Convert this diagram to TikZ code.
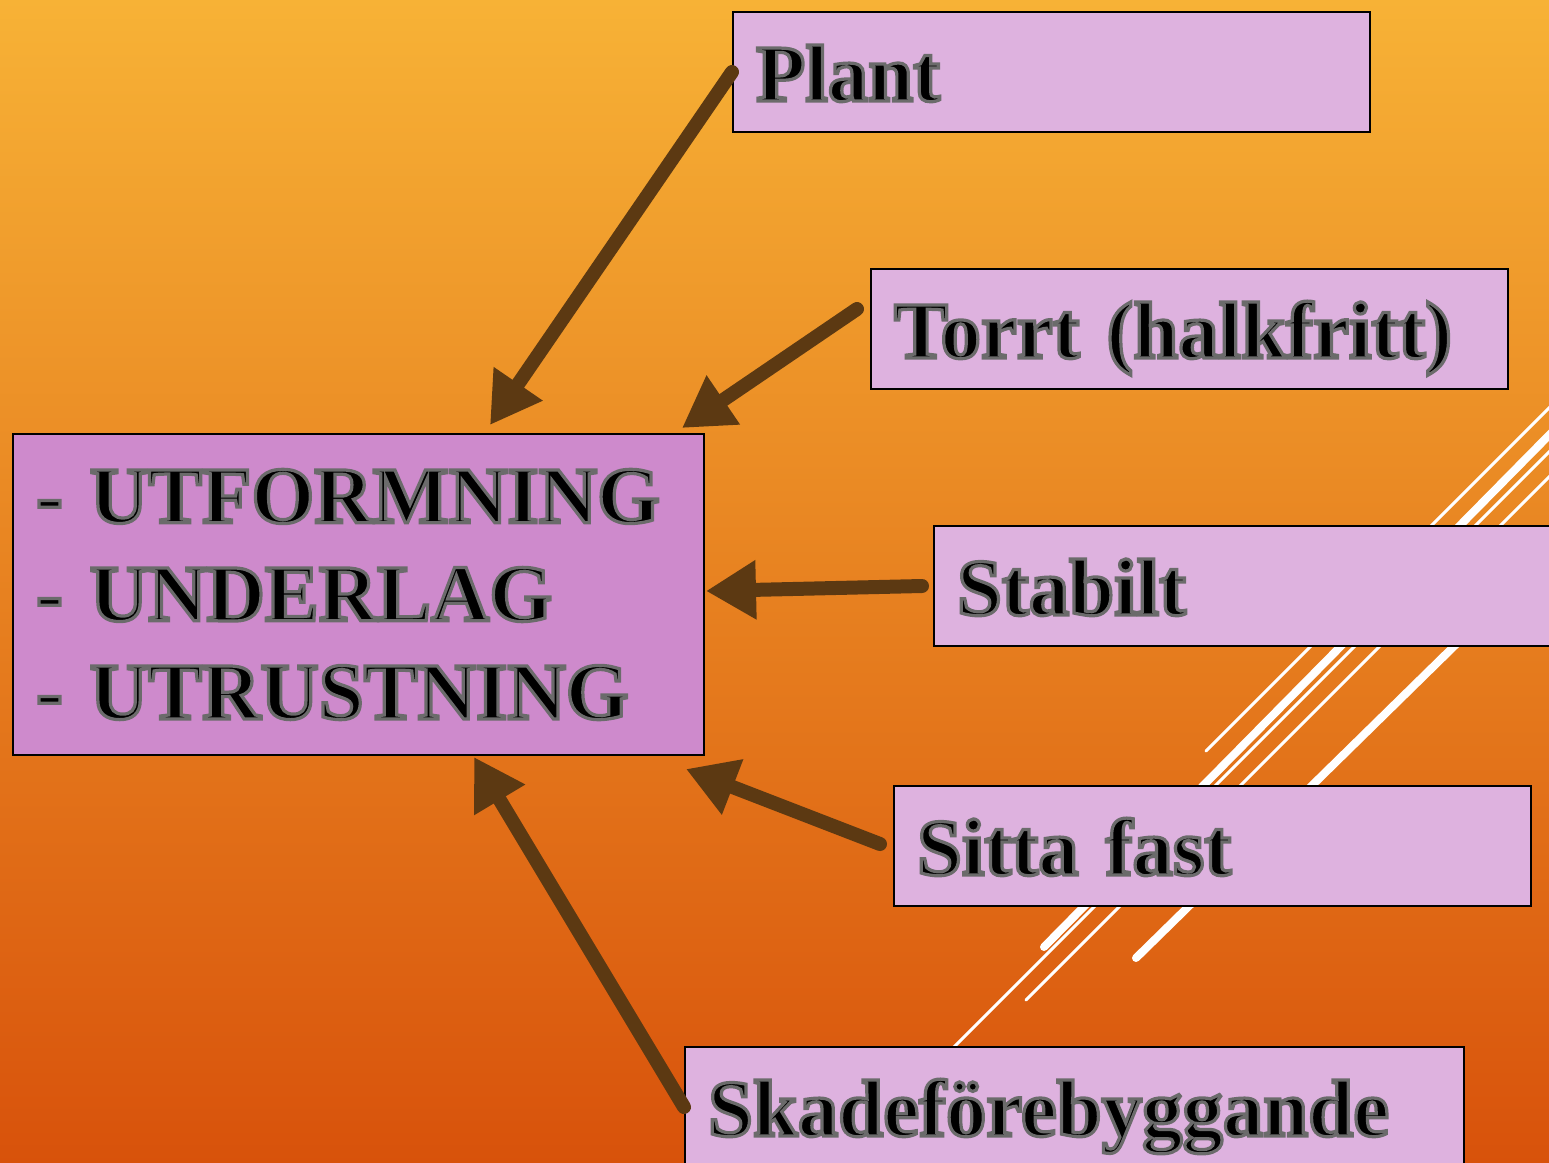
\documentclass[tikz,border=0pt]{standalone}
\usepackage{fontspec}
\setmainfont{Liberation Serif}
\newfontfamily\boxfont{Liberation Serif}[BoldFeatures={FakeBold=4}]
\usetikzlibrary{arrows.meta}
\newlength\pxu \setlength\pxu{0.02cm}
\definecolor{bgtop}{HTML}{F7B236}
\definecolor{bgmid}{HTML}{EE9327}
\definecolor{bgbot}{HTML}{D8520B}
\definecolor{lbox}{HTML}{DEB2DF}
\definecolor{mbox}{HTML}{CE8ACC}
\definecolor{arrowbrown}{HTML}{5C3912}
\newcommand\grayoutline{\special{pdf:literal direct 0.42 0.42 0.42 RG}}
\tikzset{
  boxtext/.style={font=\boxfont\bfseries\fontsize{46}{55.8}\selectfont\grayoutline},
  lbl/.style={boxtext, draw=black, line width=2\pxu, fill=lbox, anchor=north west,
    inner xsep=23\pxu, inner ysep=0pt, minimum height=120\pxu,
    text height=58\pxu, text depth=0pt, align=left},
  mainbox/.style={boxtext, draw=black, line width=2\pxu, fill=mbox, anchor=north west,
    inner xsep=23\pxu, inner ysep=0pt, minimum height=321\pxu, align=left},
  arr/.style={draw=arrowbrown, line width=0.28cm, line cap=round,
    -{Triangle[length=1cm, width=1.12cm]}},
  wthin/.style={draw=white, line width=0.06cm, line cap=round},
  wthick/.style={draw=white, line width=0.16cm, line cap=round},
}
\begin{document}
\begin{tikzpicture}[x=0.02cm, y=-0.02cm]
\useasboundingbox (0,0) rectangle (1549,1163);
\clip (0,0) rectangle (1549,1163);
% background
\shade[top color=bgtop, middle color=bgmid, bottom color=bgbot] (0,0) rectangle (1549,1163);
% decorative white lines
\draw[wthin]  (1206,751) -- (1640,317);
\draw[wthick] (1044,947) -- (1640,343);
\draw[wthin]  (850,1151) -- (1640,361);
\draw[wthin]  (1026,1000) -- (1640,386);
\draw[wthick] (1136,958) -- (1640,464);
% boxes
\node[mainbox, text width=645\pxu] (main) at (12,433)
  {- UTFORMNING\\- UNDERLAG\\- UTRUSTNING};
\node[lbl, text width=591\pxu] (plant) at (732,11) {Plant};
\node[lbl, text width=591\pxu] (torrt) at (870,268) {Torrt (halkfritt)};
\node[lbl, text width=654\pxu] (stabilt) at (933,525) {Stabilt};
\node[lbl, text width=591\pxu] (sitta) at (893,785) {Sitta fast};
\node[lbl, text width=733\pxu] (skade) at (684,1046) {Skadeförebyggande};
% arrow heads
\coordinate (h1) at (490,425);
\coordinate (h2) at (682,428);
\coordinate (h3) at (706,591);
\coordinate (h4) at (686,769);
\coordinate (h5) at (474,757);
% arrows
\draw[arr] (plant.west) -- (h1);
\draw[arr] ([xshift=-0.26cm, yshift=0.4cm]torrt.west) -- (h2);
\draw[arr] ([xshift=-0.22cm]stabilt.west) -- (h3);
\draw[arr] ([xshift=-0.26cm, yshift=0.04cm]sitta.west) -- (h4);
\draw[arr] (skade.west) -- (h5);
\end{tikzpicture}
\end{document}
